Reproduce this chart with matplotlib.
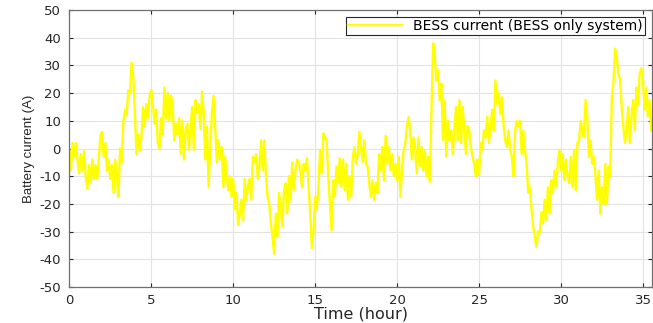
import numpy as np
import matplotlib
matplotlib.use('Agg')
import matplotlib.pyplot as plt

# BESS current, one reading every 0.1 hour
current = [
    0, -8, 2, -3, 2, -4, -9, -2, -8, -1,
    -10, -14.5, -6, -12, -4, -11, -6, -11, -4, 5,
    6, -3, 2, -8, -4, -11, -6, -16, -4, -10,
    -17.5, 0, -5, 10, 14, 12, 21, 20, 31, 26,
    13, -2, 5, -1, 4, 15, 8, 16, 11, 19,
    21, 16, 9, 14, 2, 0, 11, 5, 22, 11,
    20, 10, 19, 17, 3, 9, 5, 11, -2, 10,
    -4, 7, 9, -0.5, 8, 15, -0.5, 17.5, 13, 16,
    7, 20.5, 13, -4, 8, -14, 0.5, 13, 19, 8,
    -5, 3, -4, 0.5, -14, -3, -9, -15, -10, -17.5,
    -11, -22, -16, -27.5, -23.5, -18.5, -26, -11, -18.5, -14,
    -11, -18.5, -3, -5, -2, -11, -6.5, 3, -8, 3,
    -10, -17.5, -20, -27, -32, -38, -23.5, -32, -16, -22,
    -28, -15, -12.5, -23.5, -10, -18.5, -5, -15, -8, -4,
    -5, -8, -14, -5.5, -8, -3.5, -14, -23.5, -36, -30,
    -17.5, -22, -14, -0.5, -9, 5.5, 4, 3, -10, -20,
    -29.5, -11.5, -17.5, -6.5, -12.5, -3.5, -14, -4, -15, -5.5,
    -18.5, -10, -17.5, -3, 0.5, -5.5, -2, 6, 0.5, -5,
    3, -5.5, -6.5, -12.5, -17.5, -11.5, -18.5, -12.5, -16, -2,
    -8, 0.5, -11.5, 4.5, -5.5, 0.5, -8, -2, -10, -5.5,
    -11.5, -3, -17.5, -8, -0.5, 2, 8, 11.5, 6.5, -4,
    4, 0.5, -9, 4, -6.5, 0.5, -8, -1, -10, -3,
    -12, 15, 38, 33, 24.5, 28, 17.5, 23.5, 3, 17.5,
    -3, 10, 3, 6.5, -2, 8, 15, 3, 17.5, 2,
    15, 6.5, -2, 8, 6.5, 0.5, -3, -5.5, -10, -4,
    -9.5, 2, -0.5, 6.5, 4, 11.5, 2, 8, 14, 6.5,
    24.5, 16, 20, 12.5, 18.5, 8, 3, 0.5, 6.5, -0.5,
    -3, -10, 6.5, 10, 8, 10, -2, 6.5, -0.5, -5.5,
    -16, -14, -22, -28, -32, -35.5, -30, -30.5, -23, -27,
    -18.5, -26, -14, -23.5, -11.5, -16, -8, -14, -5.5, -0.5,
    -8, -2, -11.5, -4, -10, -12.5, -3, -14, -0.5, -15,
    2, 3, 10, 6.5, 4, 17.5, 11.5, -3, 3, -5.5,
    -3, -10, -18.5, -8, -23.5, -14, -20, -5.5, -20, -6.5,
    -10, 18.5, 24, 36, 33, 27, 25, 15, 8, 2,
    6.5, 15, 2, 11.5, 17.5, 6.5, 22, 16, 27, 29,
    24.5, 14, 22, 11.5, 17.5, 6.5,
]
dt = 0.1
time = np.arange(len(current)) * dt

x_ticks = [0, 5, 10, 15, 20, 25, 30, 35]
y_ticks = list(range(-50, 51, 10))

plt.rcParams['axes.unicode_minus'] = False
plt.rcParams['font.family'] = ['DejaVu Sans']

fig = plt.figure(figsize=(6.53, 3.23), dpi=100)
ax = fig.add_axes([69.3 / 653, 1 - 287 / 323, (652 - 69.3) / 653, 277 / 323])

ax.plot(time, current, color='#ffff00', lw=1.7, label='BESS current (BESS only system)')

ax.set_xlim(0, 35.55)
ax.set_ylim(-50, 50)
ax.set_xticks(x_ticks)
ax.set_yticks(y_ticks)
ax.grid(True, color='#e3e3e3', lw=0.8)
ax.set_axisbelow(True)

ax.tick_params(direction='in', length=3, width=0.8, colors='#262626',
               labelsize=9.5, top=True, right=True)
ax.tick_params(axis='y', pad=6)
ax.tick_params(axis='x', pad=5)
for side in ax.spines.values():
    side.set_color('#707070')
    side.set_linewidth(0.9)

ax.set_xlabel('Time (hour)', fontsize=11.5, color='#262626', labelpad=0)
ax.set_ylabel('Battery current (A)', fontsize=9.5, color='#262626',
              family=['Liberation Sans', 'DejaVu Sans'], labelpad=3)

leg = ax.legend(loc='upper right', fontsize=10, frameon=True, fancybox=False,
                framealpha=1, edgecolor='#262626', handlelength=3.9,
                borderpad=0.15, borderaxespad=0.5, handletextpad=0.8)
leg.get_frame().set_linewidth(0.8)

fig.savefig('out.png', dpi=100)
